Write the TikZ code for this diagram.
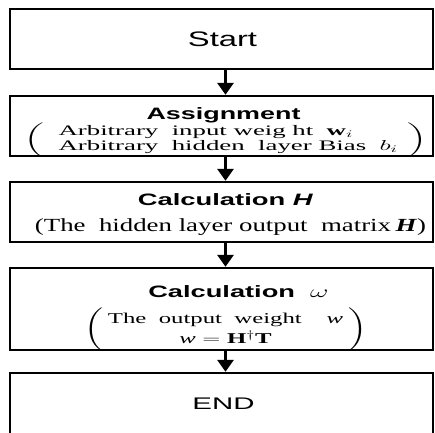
\documentclass[tikz,border=0pt]{standalone}
\usepackage{amsmath}
\usepackage{fontspec}
\setmainfont{Liberation Serif}
\setsansfont{Liberation Sans}
\usetikzlibrary{arrows.meta,positioning}
\newcommand\hdfont{\sffamily\bfseries\fontsize{16.5}{20}\selectfont}

\begin{document}
\begin{tikzpicture}[
  x=1pt,y=1pt,
  box/.style={draw,line width=2.4pt,minimum width=423pt,inner sep=0pt},
  txt/.style={transform shape,inner sep=0pt,align=center},
  arr/.style={-{Triangle[width=16pt,length=12pt]},line width=3.5pt}
]
\useasboundingbox (-221.5,39) rectangle (213.5,-393);
\clip (-221.5,39) rectangle (213.5,-393);
% boxes
\node[box,minimum height=60pt] (start) {};
\node[box,minimum height=60pt,below=24.6pt of start] (assign) {};
\node[box,minimum height=60pt,below=23.6pt of assign] (calch) {};
\node[box,minimum height=82pt,below=23.6pt of calch] (calcw) {};
\node[box,minimum height=62pt,below=20.6pt of calcw] (finish) {};
% texts
\node[txt,xscale=1.56,font=\sffamily\fontsize{21}{24}\selectfont] (startt) at ([xshift=1pt]start.center) {Start};
\node[txt,xscale=1.63,anchor=base,font=\hdfont] (assignh) at ([xshift=2pt,yshift=-25pt]assign.north) {Assignment};
\node[txt,xscale=1.85,font=\rmfamily\fontsize{14.5}{15}\selectfont] (assignb) at ([xshift=4pt,yshift=-45.5pt]assign.north) {$\left(\begin{array}{@{\hspace{8pt}}l@{\hspace{5pt}}}
    \text{Arbitrary\ \ input weig ht\ \ }\mathbf{w}_i\\
    \text{Arbitrary\ \ hidden\ \ layer Bias\ \ }b_i
  \end{array}\right)$};
\node[txt,xscale=1.66,anchor=base,font=\hdfont] (calchh) at ([xshift=4pt,yshift=-24.5pt]calch.north) {Calculation \textit{H}};
\node[txt,xscale=1.45,anchor=base,font=\rmfamily\fontsize{18.5}{20}\selectfont] (calchb) at ([xshift=9pt,yshift=-51pt]calch.north) {(The\ \ hidden layer output\ \ matrix\,\textbf{\textit{H}})};
\node[txt,xscale=1.65,anchor=base west,font=\hdfont] (calcwh) at ([xshift=-73.5pt,yshift=-30.2pt]calcw.north) {Calculation\ \ $\omega$};
\node[txt,xscale=1.65,font=\rmfamily\fontsize{15}{20}\selectfont] (calcwb) at ([xshift=4pt,yshift=-62.5pt]calcw.north) {$\left(\begin{array}{@{\hspace{3pt}}c@{\hspace{3pt}}}
    \text{The\ \ output\ \ weight\quad\textit{w}}\\
    \text{\textit{w}} = \mathbf{H}^{\dagger}\mathbf{T}
  \end{array}\right)$};
\node[txt,xscale=1.75,font=\sffamily\fontsize{16.8}{20}\selectfont] (finisht) at ([xshift=2pt]finish.center) {END};
% arrows
\draw[arr] ([xshift=4pt]start.south) -- ([xshift=4pt]assign.north);
\draw[arr] ([xshift=4pt]assign.south) -- ([xshift=4pt]calch.north);
\draw[arr] ([xshift=4pt]calch.south) -- ([xshift=4pt]calcw.north);
\draw[arr] ([xshift=4pt]calcw.south) -- ([xshift=4pt]finish.north);
\end{tikzpicture}
\end{document}
